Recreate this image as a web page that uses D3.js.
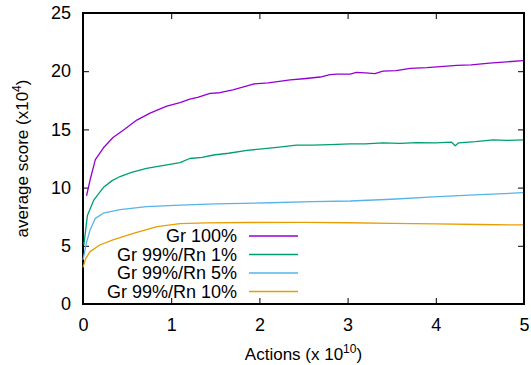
<!DOCTYPE html>
<html>
<head>
<meta charset="utf-8">
<script src="https://cdn.jsdelivr.net/npm/d3@7"></script>
<style>
  body { margin: 0; background: #fff; }
  svg text { font-family: "Liberation Sans", Arial, sans-serif; fill: #000; }
</style>
</head>
<body>
<svg id="chart" width="531" height="365"></svg>
<script>
// values (x in units of 1e10 actions, y in units of 1e4)
const seriesNames = ['Gr 100%', 'Gr 99%/Rn 1%', 'Gr 99%/Rn 5%', 'Gr 99%/Rn 10%'];
const seriesColors = ['#9400d3', '#009e73', '#56b4e9', '#e69f00'];

const gr100 = [[0.04, 9.3], [0.08, 10.65], [0.14, 12.4], [0.23, 13.4], [0.34, 14.3], [0.46, 14.95],
  [0.61, 15.8], [0.76, 16.4], [0.95, 17.0], [1.1, 17.3], [1.21, 17.6], [1.3, 17.75], [1.44, 18.1],
  [1.55, 18.15], [1.7, 18.4], [1.8, 18.6], [1.93, 18.9], [2.1, 19.0], [2.35, 19.25], [2.5, 19.35],
  [2.69, 19.5], [2.8, 19.7], [2.88, 19.75], [3.03, 19.75], [3.1, 19.9], [3.2, 19.85], [3.31, 19.8],
  [3.4, 20.0], [3.55, 20.05], [3.71, 20.25], [3.9, 20.3], [4.05, 20.4], [4.24, 20.5], [4.4, 20.55],
  [4.61, 20.7], [4.8, 20.8], [4.99, 20.9]];
const gr99rn1 = [[0.01, 5.1], [0.05, 7.6], [0.12, 8.9], [0.23, 10.0], [0.33, 10.6], [0.42, 10.95],
  [0.55, 11.3], [0.72, 11.65], [0.95, 11.95], [1.1, 12.15], [1.21, 12.5], [1.35, 12.6], [1.48, 12.8],
  [1.65, 12.95], [1.86, 13.2], [2.0, 13.3], [2.2, 13.45], [2.42, 13.65], [2.6, 13.65], [2.8, 13.7],
  [3.03, 13.75], [3.2, 13.75], [3.4, 13.85], [3.6, 13.8], [3.78, 13.86], [4.0, 13.85], [4.18, 13.9],
  [4.22, 13.6], [4.26, 13.85], [4.45, 13.95], [4.65, 14.1], [4.8, 14.05], [4.99, 14.1]];
const gr99rn5 = [[0.0, 3.8], [0.04, 5.3], [0.08, 6.35], [0.14, 7.36], [0.23, 7.8], [0.42, 8.1],
  [0.72, 8.36], [1.1, 8.5], [1.5, 8.6], [2.12, 8.7], [2.6, 8.8], [3.03, 8.85], [3.5, 9.0],
  [3.97, 9.2], [4.5, 9.4], [4.99, 9.56]];
const gr99rn10 = [[0.0, 3.15], [0.03, 3.9], [0.08, 4.5], [0.19, 5.07], [0.34, 5.5], [0.57, 6.07],
  [0.84, 6.65], [1.1, 6.9], [1.4, 6.97], [1.86, 7.0], [2.5, 7.02], [3.0, 6.98], [3.5, 6.93],
  [4.0, 6.88], [4.5, 6.83], [4.99, 6.79]];
const allSeries = [gr100, gr99rn1, gr99rn5, gr99rn10];

const xTicks = [0, 1, 2, 3, 4, 5];
const yTicks = [0, 5, 10, 15, 20, 25];

const svg = d3.select('#chart');
const margin = { top: 13, right: 7, bottom: 61, left: 83 };
const width = 531 - margin.left - margin.right;
const height = 365 - margin.top - margin.bottom;

const x = d3.scaleLinear().domain([0, 5]).range([0, width]);
const y = d3.scaleLinear().domain([0, 25]).range([height, 0]);

const g = svg.append('g').attr('transform', `translate(${margin.left},${margin.top})`);

// inward ticks, mirrored on the opposite side like gnuplot
const tickLen = 6;
const xAxis = d3.axisBottom(x).tickValues(xTicks).tickFormat(d3.format('d'))
  .tickSizeInner(-tickLen).tickSizeOuter(0).tickPadding(14);
const yAxis = d3.axisLeft(y).tickValues(yTicks).tickFormat(d3.format('d'))
  .tickSizeInner(-tickLen).tickSizeOuter(0).tickPadding(12);

const gx = g.append('g').attr('transform', `translate(0,${height})`).call(xAxis);
const gy = g.append('g').call(yAxis);
g.append('g').call(d3.axisTop(x).tickValues(xTicks).tickSizeInner(-tickLen).tickSizeOuter(0).tickFormat(''));
g.append('g').attr('transform', `translate(${width},0)`)
  .call(d3.axisRight(y).tickValues(yTicks).tickSizeInner(-tickLen).tickSizeOuter(0).tickFormat(''));

g.selectAll('.domain').remove();
g.selectAll('.tick line').attr('stroke', '#000').attr('stroke-width', 1);
gx.selectAll('text').style('font-size', '18px');
gy.selectAll('text').style('font-size', '18px');

// border
g.append('rect').attr('width', width).attr('height', height)
  .attr('fill', 'none').attr('stroke', '#000').attr('stroke-width', 2);

// lines
const line = d3.line().x(d => x(d[0])).y(d => y(d[1]));
allSeries.forEach((s, i) => {
  g.append('path').datum(s)
    .attr('d', line)
    .attr('fill', 'none')
    .attr('stroke', seriesColors[i])
    .attr('stroke-width', 1.3)
    .attr('stroke-linejoin', 'round');
});

// legend
const legend = svg.append('g');
seriesNames.forEach((name, i) => {
  const cy = 236 + i * 18.5;
  legend.append('text')
    .attr('x', 237).attr('y', cy)
    .attr('dy', '0.35em')
    .attr('text-anchor', 'end')
    .style('font-size', '18px')
    .text(name);
  legend.append('line')
    .attr('x1', 249).attr('x2', 298)
    .attr('y1', cy).attr('y2', cy)
    .attr('stroke', seriesColors[i])
    .attr('stroke-width', 1.3);
});

// axis titles
const xt = svg.append('text')
  .attr('x', margin.left + width / 2)
  .attr('y', 360)
  .attr('text-anchor', 'middle')
  .style('font-size', '17px');
xt.append('tspan').text('Actions (x 10');
xt.append('tspan').attr('dy', -7).style('font-size', '12px').text('10');
xt.append('tspan').attr('dy', 7).text(')');

const yt = svg.append('text')
  .attr('transform', `translate(28,${margin.top + height / 2}) rotate(-90)`)
  .attr('text-anchor', 'middle')
  .style('font-size', '17px');
yt.append('tspan').text('average score (x10');
yt.append('tspan').attr('dy', -7).style('font-size', '12px').text('4');
yt.append('tspan').attr('dy', 7).text(')');
</script>
</body>
</html>
